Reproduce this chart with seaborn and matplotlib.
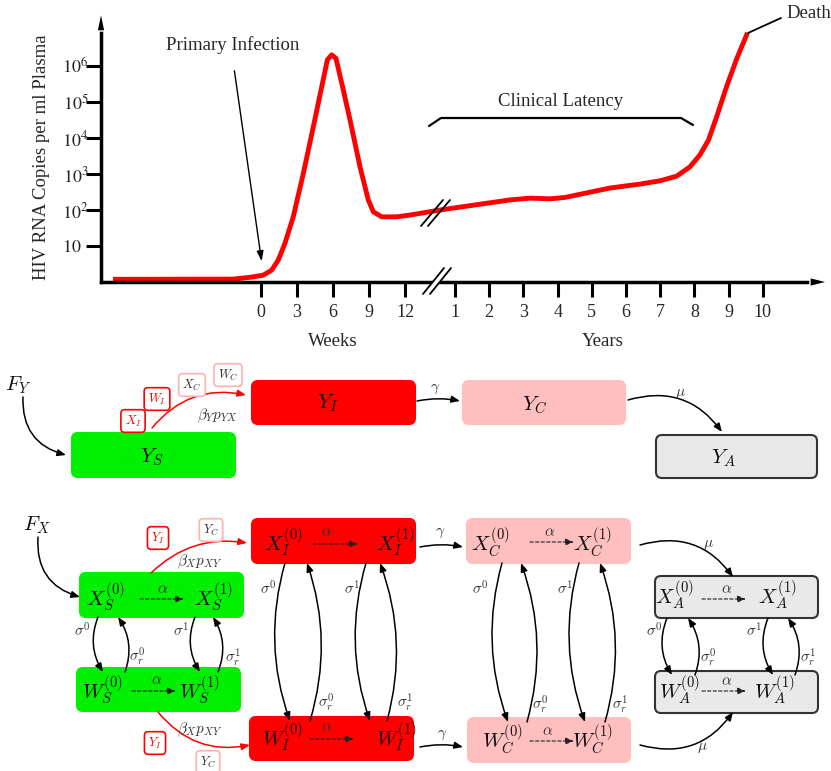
import matplotlib
matplotlib.use('Agg')
import matplotlib.pyplot as plt
import seaborn as sns
import numpy as np
import pandas as pd
from matplotlib.patches import FancyBboxPatch, FancyArrowPatch
from matplotlib.transforms import ScaledTranslation

sns.set_style('white')
plt.rcParams['font.family'] = ['Liberation Serif', 'DejaVu Serif']
plt.rcParams['mathtext.fontset'] = 'cm'

# viral load curve: weeks part and years part (log10 copies per ml)
weeks = [-12.33, -2.33, -0.92, 0.19, 0.89, 1.44, 2.0, 2.69, 3.53, 4.36, 5.06, 5.53, 5.89,
         6.25, 6.73, 7.42, 8.25, 8.94, 9.36, 10.06, 11.31, 12.42]
weeks_log = [0.075, 0.08, 0.13, 0.19, 0.33, 0.61, 1.08, 1.81, 3.02, 4.31, 5.42, 6.17, 6.31,
             6.21, 5.52, 4.5, 3.2, 2.28, 1.95, 1.81, 1.81, 1.86]
years = [0.0, 0.56, 1.58, 2.61, 3.19, 3.78, 4.22, 5.53, 6.41, 6.99, 7.48, 7.87, 8.16, 8.41,
         8.65, 8.94, 9.24, 9.55]
years_log = [1.91, 2.0, 2.14, 2.28, 2.33, 2.31, 2.35, 2.61, 2.72, 2.81, 2.94, 3.2, 3.53, 3.94,
             4.59, 5.43, 6.21, 6.92]

week_ticks = [0, 3, 6, 9, 12]
year_ticks = [1, 2, 3, 4, 5, 6, 7, 8, 9, 10]
decades = [1, 2, 3, 4, 5, 6]


def year_pos(y):
    # years are drawn after the axis break, on a compressed scale
    return 13.32 + 2.85 * np.asarray(y, dtype=float)


df = pd.DataFrame({'t': np.r_[weeks, year_pos(years)],
                   'copies': 10 ** np.r_[weeks_log, years_log]})

fig = plt.figure(figsize=(8.31, 7.71), dpi=100)

# ---- top chart
ax = fig.add_axes([101 / 831, 1 - 282 / 771, 711 / 831, 252 / 771])
sns.lineplot(data=df, x='t', y='copies', sort=False, color='red', lw=3.5, ax=ax,
             solid_joinstyle='round', solid_capstyle='butt')
ax.set_yscale('log')
ax.set_xlim((101 - 261) / 12, (812 - 261) / 12)
ax.set_ylim(1, 10 ** (252 / 36))
ax.yaxis.set_minor_locator(matplotlib.ticker.NullLocator())
ax.set_yticks([10 ** d for d in decades])
ax.set_yticklabels(['$10$'] + [rf'$10^{{{d}}}$' for d in decades[1:]])
ax.set_xticks(week_ticks + list(year_pos(year_ticks)))
ax.set_xticklabels([str(w) for w in week_ticks] + [str(y) for y in year_ticks])
for lbl in ax.get_yticklabels():
    lbl.set_math_fontfamily('stix')
ax.tick_params(axis='both', left=True, bottom=True, length=11, width=2.2, color='k', labelsize=13)
ax.tick_params(axis='x', pad=5)
ax.tick_params(axis='y', pad=-2)
for s in ['top', 'right']:
    ax.spines[s].set_visible(False)
for s in ['left', 'bottom']:
    ax.spines[s].set_linewidth(2.5)
    ax.spines[s].set_color('k')
ax.set_xlabel('')
ax.set_ylabel('')
ax.patch.set_alpha(0)
# plain "10" has no exponent: keep its digits in line with the others
first = ax.yaxis.get_major_ticks()[0].label1
first.set_transform(first.get_transform() + ScaledTranslation(-7 / 100, 0, fig.dpi_scale_trans))

# ---- overlay for annotations and the compartment diagram (pixel coords)
ov = fig.add_axes([0, 0, 1, 1])
ov.set_xlim(0, 831)
ov.set_ylim(771, 0)
ov.axis('off')

ov.fill([828, 810, 810], [282, 277.5, 286.5], 'k')
ov.fill([101, 97, 105], [12, 31, 31], 'k')
ov.text(42, 157, 'HIV RNA Copies per ml Plasma', rotation=90, ha='center', va='center', fontsize=13.5)
ov.text(333, 342, 'Weeks', ha='center', va='center', fontsize=13.5)
ov.text(603, 342, 'Years', ha='center', va='center', fontsize=13.5)
ov.text(233, 45, 'Primary Infection', ha='center', va='center', fontsize=13.5)
ov.annotate('', xy=(262, 264), xytext=(234, 68),
            arrowprops=dict(arrowstyle='-|>,head_length=0.6,head_width=0.2', color='k', lw=1))
ov.text(561, 102, 'Clinical Latency', ha='center', va='center', fontsize=13.5)
ov.plot([429, 441, 681, 693], [126, 118, 118, 125], color='k', lw=1.6)
ov.text(786, 14, 'Death', ha='left', va='center', fontsize=13.5)
ov.plot([748, 781], [33, 18], color='k', lw=1.3)
# axis break marks
ov.plot([427, 448], [294, 268], color='white', lw=4)
ov.plot([423, 444], [294, 268], color='k', lw=1.3)
ov.plot([430, 451], [294, 268], color='k', lw=1.3)
ov.plot([421, 443], [226, 200], color='k', lw=1.3)
ov.plot([428, 450], [226, 200], color='k', lw=1.3)

GREEN = '#00f000'
RED = '#ff0000'
PINK = '#ffbfbf'
GRAY = '#e9e9e9'

boxes = {
    'YS': (72, 433, 235, 477, GREEN, None), 'YI': (252, 381, 415, 424, RED, None),
    'YC': (463, 381, 625, 424, PINK, None), 'YA': (656, 435, 817, 478, GRAY, '#333333'),
    'XS': (80, 573, 243, 617, GREEN, None), 'WS': (77, 668, 240, 711, GREEN, None),
    'XI': (252, 519, 415, 563, RED, None), 'WI': (250, 717, 413, 760, RED, None),
    'XC': (467, 519, 630, 563, PINK, None), 'WC': (468, 718, 630, 762, PINK, None),
    'XA': (655, 576, 818, 618, GRAY, '#333333'), 'WA': (655, 671, 818, 713, GRAY, '#333333'),
}
for x0, y0, x1, y1, fc, ec in boxes.values():
    ov.add_patch(FancyBboxPatch((x0, y0), x1 - x0, y1 - y0,
                                boxstyle='round,pad=0,rounding_size=6',
                                fc=fc, ec=ec if ec else fc, lw=1.5))

big = [
    (18, 385, r'$F_Y$'), (37, 525, r'$F_X$'),
    (152, 457, r'$Y_S$'), (328, 403, r'$Y_I$'), (535, 405, r'$Y_C$'), (723, 458, r'$Y_A$'),
    (105, 597, r'$X_S^{(0)}$'), (213, 597, r'$X_S^{(1)}$'),
    (103, 690, r'$W_S^{(0)}$'), (200, 690, r'$W_S^{(1)}$'),
    (283, 542, r'$X_I^{(0)}$'), (395, 542, r'$X_I^{(1)}$'),
    (283, 737, r'$W_I^{(0)}$'), (397, 737, r'$W_I^{(1)}$'),
    (490, 543, r'$X_C^{(0)}$'), (592, 543, r'$X_C^{(1)}$'),
    (503, 740, r'$W_C^{(0)}$'), (593, 740, r'$W_C^{(1)}$'),
    (674, 595, r'$X_A^{(0)}$'), (777, 595, r'$X_A^{(1)}$'),
    (680, 690, r'$W_A^{(0)}$'), (775, 690, r'$W_A^{(1)}$'),
]
for x, y, s in big:
    ov.text(x, y, s, ha='center', va='center', fontsize=15, color='#111111')

small = [
    (217, 416, r'$\beta_Y p_{YX}$'), (200, 562, r'$\beta_X p_{XY}$'), (200, 730, r'$\beta_X p_{XY}$'),
    (435, 389, r'$\gamma$'), (680, 394, r'$\mu$'),
    (440, 533, r'$\gamma$'), (442, 735, r'$\gamma$'), (708, 545, r'$\mu$'), (702, 748, r'$\mu$'),
    (163, 590, r'$\alpha$'), (157, 681, r'$\alpha$'), (327, 533, r'$\alpha$'), (327, 728, r'$\alpha$'),
    (550, 533, r'$\alpha$'), (548, 732, r'$\alpha$'), (727, 590, r'$\alpha$'), (727, 682, r'$\alpha$'),
    (82, 630, r'$\sigma^0$'), (137, 657, r'$\sigma_r^0$'), (181, 630, r'$\sigma^1$'), (233, 658, r'$\sigma_r^1$'),
    (268, 588, r'$\sigma^0$'), (326, 703, r'$\sigma_r^0$'), (352, 588, r'$\sigma^1$'), (405, 703, r'$\sigma_r^1$'),
    (480, 588, r'$\sigma^0$'), (540, 705, r'$\sigma_r^0$'), (565, 588, r'$\sigma^1$'), (620, 705, r'$\sigma_r^1$'),
    (654, 630, r'$\sigma^0$'), (708, 658, r'$\sigma_r^0$'), (754, 630, r'$\sigma^1$'), (808, 658, r'$\sigma_r^1$'),
]
for x, y, s in small:
    ov.text(x, y, s, ha='center', va='center', fontsize=11, color='#333333')

tags = [
    (133, 421, r'$X_I$', RED, RED), (157, 399, r'$W_I$', RED, RED),
    (192, 385, r'$X_C$', '#333333', '#ffb0b0'), (228, 375, r'$W_C$', '#333333', '#ffb0b0'),
    (158, 538, r'$Y_I$', RED, RED), (211, 530, r'$Y_C$', '#333333', '#ffb0b0'),
    (155, 743, r'$Y_I$', RED, RED), (208, 762, r'$Y_C$', '#333333', '#ffb0b0'),
]
for x, y, s, tc, ec in tags:
    ov.text(x, y, s, ha='center', va='center', fontsize=9, color=tc,
            bbox=dict(boxstyle='round,pad=0.3', fc='white', ec=ec, lw=1.2))

arrows = [
    # inflows and infections
    ((23, 397), (66, 455), 0.4, 'k', '-'), ((38, 537), (80, 597), 0.4, 'k', '-'),
    ((152, 428), (246, 395), -0.3, RED, '-'), ((151, 573), (247, 543), -0.25, RED, '-'),
    ((158, 712), (250, 745), 0.3, RED, '-'),
    # progression
    ((417, 401), (460, 401), -0.1, 'k', '-'), ((628, 400), (722, 432), -0.35, 'k', '-'),
    ((420, 547), (463, 547), -0.1, 'k', '-'), ((420, 747), (463, 747), -0.1, 'k', '-'),
    ((640, 545), (733, 577), -0.35, 'k', '-'), ((640, 745), (733, 712), 0.35, 'k', '-'),
    # alpha transitions
    ((140, 599), (184, 599), 0, 'k', '--'), ((132, 691), (176, 691), 0, 'k', '--'),
    ((313, 544), (358, 544), 0, 'k', '--'), ((310, 739), (354, 739), 0, 'k', '--'),
    ((530, 542), (574, 542), 0, 'k', '--'), ((530, 741), (574, 741), 0, 'k', '--'),
    ((702, 599), (746, 599), 0, 'k', '--'), ((702, 691), (746, 691), 0, 'k', '--'),
    # sigma transitions
    ((98, 617), (103, 672), 0.25, 'k', '-'), ((125, 672), (118, 617), 0.25, 'k', '-'),
    ((195, 617), (200, 672), 0.25, 'k', '-'), ((218, 672), (213, 617), 0.25, 'k', '-'),
    ((285, 563), (290, 721), 0.16, 'k', '-'), ((310, 721), (307, 563), 0.16, 'k', '-'),
    ((366, 563), (370, 721), 0.16, 'k', '-'), ((387, 721), (380, 563), 0.16, 'k', '-'),
    ((502, 563), (508, 722), 0.16, 'k', '-'), ((527, 722), (521, 563), 0.16, 'k', '-'),
    ((579, 563), (585, 722), 0.16, 'k', '-'), ((605, 722), (600, 563), 0.16, 'k', '-'),
    ((667, 618), (672, 675), 0.25, 'k', '-'), ((695, 675), (688, 618), 0.25, 'k', '-'),
    ((768, 618), (773, 675), 0.25, 'k', '-'), ((795, 675), (788, 618), 0.25, 'k', '-'),
]
for p0, p1, rad, col, ls in arrows:
    dashed = ls == '--'
    ov.add_patch(FancyArrowPatch(p0, p1, connectionstyle=f'arc3,rad={rad}',
                                 arrowstyle='-|>,head_length=0.5,head_width=0.2',
                                 mutation_scale=10, color='#222222' if dashed else col,
                                 lw=0.8 if dashed else 1.1,
                                 linestyle=(0, (3, 2)) if dashed else '-',
                                 shrinkA=0, shrinkB=0))

fig.savefig('out.png', dpi=100)
